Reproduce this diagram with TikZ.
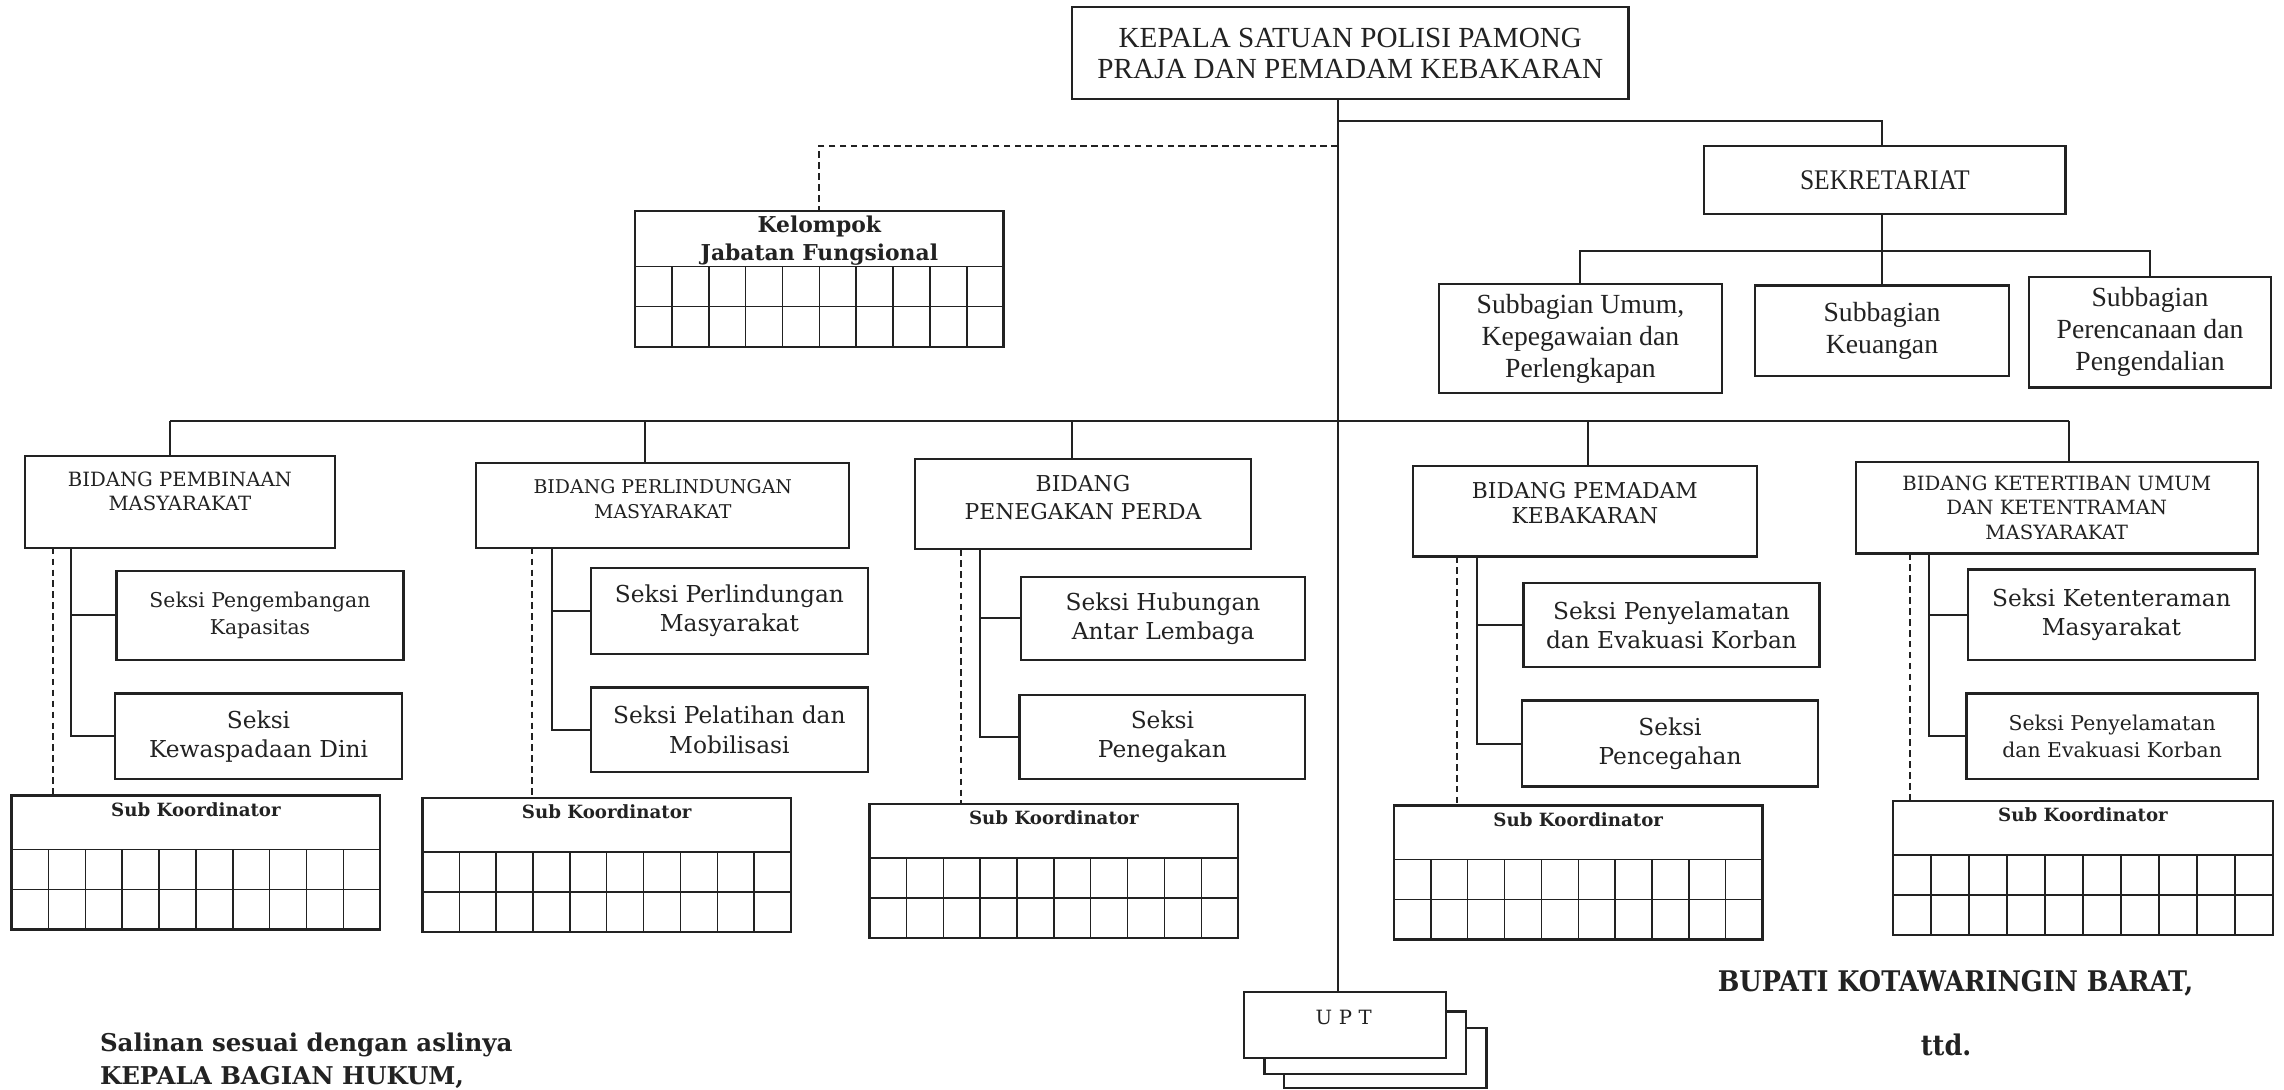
\documentclass[tikz,border=0pt]{standalone}
\usepackage{fontspec}
\setmainfont{DejaVu Serif}
\newfontfamily\timesf{Liberation Serif}
\newfontfamily\timescond{Liberation Serif}[FakeStretch=0.9]
\newfontfamily\condbold{DejaVu Serif}[FakeStretch=0.9]
\definecolor{ink}{RGB}{34,34,34}
\newcommand\setfs[2]{\fontsize{#1pt}{#2pt}\selectfont}
\tikzset{
  box/.style={draw=ink, line width=1.6pt, inner sep=0pt, outer sep=0pt, text=ink, align=center},
  txt/.style={text=ink, align=center, inner sep=0pt},
  conn/.style={draw=ink, line width=1.4pt},
  dconn/.style={draw=ink, line width=1.4pt, dash pattern=on 4.5pt off 3pt},
  gridln/.style={draw=ink, line width=1pt},
  seksi/.style={box, font=\setfs{16}{20}},
  bid/.style={box},
}
\newcommand\skbox[4]{%
  \node[box, anchor=north west, minimum width=#4pt, minimum height=92pt] (#1) at (#2,#3) {};
  \node[txt, font=\bfseries\setfs{12.5}{14}, anchor=north] (#1t) at ([yshift=-4.5pt]#1.north) {Sub Koordinator};
  \draw[gridln] ([yshift=-37pt]#1.north west) -- ([yshift=-37pt]#1.north east);
  \draw[gridln] ([yshift=-64.5pt]#1.north west) -- ([yshift=-64.5pt]#1.north east);
  \foreach \i in {1,...,9} \draw[gridln] ({#2+\i*#4/10},{#3+37}) -- ({#2+\i*#4/10},{#3+92});
}
\begin{document}
\begin{tikzpicture}[x=1pt,y=-1pt]
\useasboundingbox (0,0) rectangle (1568,748);
\fill[white] (0,0) rectangle (1568,748);

% ---------- head ----------
\node[box, minimum width=382pt, minimum height=63pt, font=\timesf\setfs{20}{21.5}] (ksp) at (927,36.5)
  {KEPALA SATUAN POLISI PAMONG\\PRAJA DAN PEMADAM KEBAKARAN};
\coordinate (tr) at (918.5,0);

% ---------- UPT ----------
\node[box, fill=white, minimum width=139pt, minimum height=41.5pt] (upt3) at (951.1,726.25) {};
\node[box, fill=white, minimum width=138.6pt, minimum height=43pt] (upt2) at (937.3,716) {};
\node[box, fill=white, minimum width=138.6pt, minimum height=45.5pt] (upt) at (923.3,703.75) {};
\node[txt, font=\setfs{13.5}{16}] (uptt) at (922.5,698.5) {U\,\,P\,\,T};
\draw[conn] (ksp.south -| tr) -- (upt.north -| tr);

% ---------- sekretariat ----------
\node[box, minimum width=248pt, minimum height=47pt, font=\timescond\setfs{19.5}{20}] (sek) at (1294,123.5) {SEKRETARIAT};
\coordinate (sj) at (1292,83);
\draw[conn] (tr |- sj) -- (sj) -- (sek.north -| sj);

\node[box, minimum width=194pt, minimum height=75pt, font=\timesf\setfs{19}{22}] (su) at (1085,232.5)
  {Subbagian Umum,\\Kepegawaian dan\\Perlengkapan};
\node[box, minimum width=174pt, minimum height=62pt, font=\timesf\setfs{19}{22}] (sk) at (1292,227)
  {Subbagian\\Keuangan};
\node[box, minimum width=166pt, minimum height=76pt, font=\timesf\setfs{19}{22}] (sp) at (1476,228)
  {Subbagian\\Perencanaan dan\\Pengendalian};
\coordinate (sa) at (1085,172);
\coordinate (sc) at (1476,172);
\draw[conn] (sek.south -| sj) -- (sk.north -| sj);
\draw[conn] (su.north -| sa) -- (sa) -- (sc) -- (sp.north -| sc);

% ---------- kelompok jabatan fungsional ----------
\node[box, anchor=north west, minimum width=253pt, minimum height=93pt] (kjf) at (436,145) {};
\node[txt, font=\bfseries\setfs{15}{19.5}] (kjft) at (562.5,165) {Kelompok\\Jabatan Fungsional};
\draw[gridln] ([yshift=-38pt]kjf.north west) -- ([yshift=-38pt]kjf.north east);
\draw[gridln] ([yshift=-65.5pt]kjf.north west) -- ([yshift=-65.5pt]kjf.north east);
\foreach \i in {1,...,9} \draw[gridln] ({436+\i*25.3},183) -- ({436+\i*25.3},238);
\coordinate (kj) at (562.5,100);
\draw[dconn] (tr |- kj) -- (kj) -- (kjf.north);

% ---------- bidang ----------
\node[bid, minimum width=213pt, minimum height=63pt] (b1) at (123.5,344.5) {};
\node[txt, font=\setfs{13.5}{16.5}] (b1t) at (123.5,337.5) {BIDANG PEMBINAAN\\MASYARAKAT};
\node[bid, minimum width=256pt, minimum height=58pt] (b2) at (455,347) {};
\node[txt, font=\setfs{13}{17}] (b2t) at (455,342.5) {BIDANG PERLINDUNGAN\\MASYARAKAT};
\node[bid, minimum width=231pt, minimum height=62pt] (b3) at (743.5,346) {};
\node[txt, font=\setfs{15}{19.5}] (b3t) at (743.5,341.5) {BIDANG\\PENEGAKAN PERDA};
\node[bid, minimum width=236pt, minimum height=62pt] (b4) at (1088,351) {};
\node[txt, font=\setfs{15}{17.5}] (b4t) at (1088,345.5) {BIDANG PEMADAM\\KEBAKARAN};
\node[bid, minimum width=276pt, minimum height=63pt] (b5) at (1412,348.5) {};
\node[txt, font=\setfs{13.5}{16.8}] (b5t) at (1412,348.5) {BIDANG KETERTIBAN UMUM\\DAN KETENTRAMAN\\MASYARAKAT};

\coordinate (j1) at (117,289);
\coordinate (j2) at (443,289);
\coordinate (j3) at (736,289);
\coordinate (j4) at (1090,289);
\coordinate (j5) at (1420.5,289);
\draw[conn] (j1) -- (j5);
\draw[conn] (j1) -- (b1.north -| j1);
\draw[conn] (j2) -- (b2.north -| j2);
\draw[conn] (j3) -- (b3.north -| j3);
\draw[conn] (j4) -- (b4.north -| j4);
\draw[conn] (j5) -- (b5.north -| j5);

% ---------- seksi ----------
\node[seksi, minimum width=197pt, minimum height=61pt, font=\setfs{14}{18.5}] (s1a) at (178.5,422.5) {Seksi Pengembangan\\Kapasitas};
\node[seksi, minimum width=197pt, minimum height=59pt] (s1b) at (177.5,505.5) {Seksi\\Kewaspadaan Dini};
\node[seksi, minimum width=190.5pt, minimum height=59pt] (s2a) at (500.75,419.5) {Seksi Perlindungan\\Masyarakat};
\node[seksi, minimum width=190.5pt, minimum height=58pt] (s2b) at (500.75,501) {Seksi Pelatihan dan\\Mobilisasi};
\node[seksi, minimum width=195pt, minimum height=57pt] (s3a) at (798.5,424.5) {Seksi Hubungan\\Antar Lembaga};
\node[seksi, minimum width=196pt, minimum height=58pt] (s3b) at (798,506) {Seksi\\Penegakan};
\node[seksi, minimum width=203pt, minimum height=58pt] (s4a) at (1147.5,429) {Seksi Penyelamatan\\dan Evakuasi Korban};
\node[seksi, minimum width=203pt, minimum height=59pt] (s4b) at (1146.5,510.5) {Seksi\\Pencegahan};
\node[seksi, minimum width=197pt, minimum height=62pt] (s5a) at (1449.5,422) {Seksi Ketenteraman\\Masyarakat};
\node[seksi, minimum width=200pt, minimum height=59pt, font=\setfs{14}{18.5}] (s5b) at (1450,505.5) {Seksi Penyelamatan\\dan Evakuasi Korban};

\coordinate (v1) at (48.5,0);
\coordinate (v2) at (379,0);
\coordinate (v3) at (672.5,0);
\coordinate (v4) at (1014,0);
\coordinate (v5) at (1324,0);
\draw[conn] (b1.south -| v1) |- (s1b.west);
\draw[conn] (v1 |- s1a.west) -- (s1a.west);
\draw[conn] (b2.south -| v2) |- (s2b.west);
\draw[conn] (v2 |- s2a.west) -- (s2a.west);
\draw[conn] (b3.south -| v3) |- (s3b.west);
\draw[conn] (v3 |- s3a.west) -- (s3a.west);
\draw[conn] (b4.south -| v4) |- (s4b.west);
\draw[conn] (v4 |- s4a.west) -- (s4a.west);
\draw[conn] (b5.south -| v5) |- (s5b.west);
\draw[conn] (v5 |- s5a.west) -- (s5a.west);

% ---------- sub koordinator ----------
\skbox{k1}{8}{546}{253}
\skbox{k2}{290}{548}{253}
\skbox{k3}{597}{552}{253}
\skbox{k4}{957}{553}{253}
\skbox{k5}{1299.5}{550}{261}

\coordinate (d1) at (36.6,0);
\coordinate (d2) at (365,0);
\coordinate (d3) at (660,0);
\coordinate (d4) at (1000,0);
\coordinate (d5) at (1311,0);
\draw[dconn] (b1.south -| d1) -- (k1.north -| d1);
\draw[dconn] (b2.south -| d2) -- (k2.north -| d2);
\draw[dconn] (b3.south -| d3) -- (k3.north -| d3);
\draw[dconn] (b4.south -| d4) -- (k4.north -| d4);
\draw[dconn] (b5.south -| d5) -- (k5.north -| d5);

% ---------- signature texts ----------
\node[txt, font=\condbold\bfseries\setfs{19.5}{22}] (bup) at (1342.5,675) {BUPATI KOTAWARINGIN BARAT,};
\node[txt, font=\condbold\bfseries\setfs{19.5}{22}] (ttd) at (1336,717) {ttd.};
\node[txt, anchor=west, font=\bfseries\setfs{16.8}{22}] (sal) at (68.5,717) {Salinan sesuai dengan aslinya};
\node[txt, anchor=west, font=\bfseries\setfs{16.8}{22}] (kbh) at (68.5,739.5) {KEPALA BAGIAN HUKUM,};
\end{tikzpicture}
\end{document}
